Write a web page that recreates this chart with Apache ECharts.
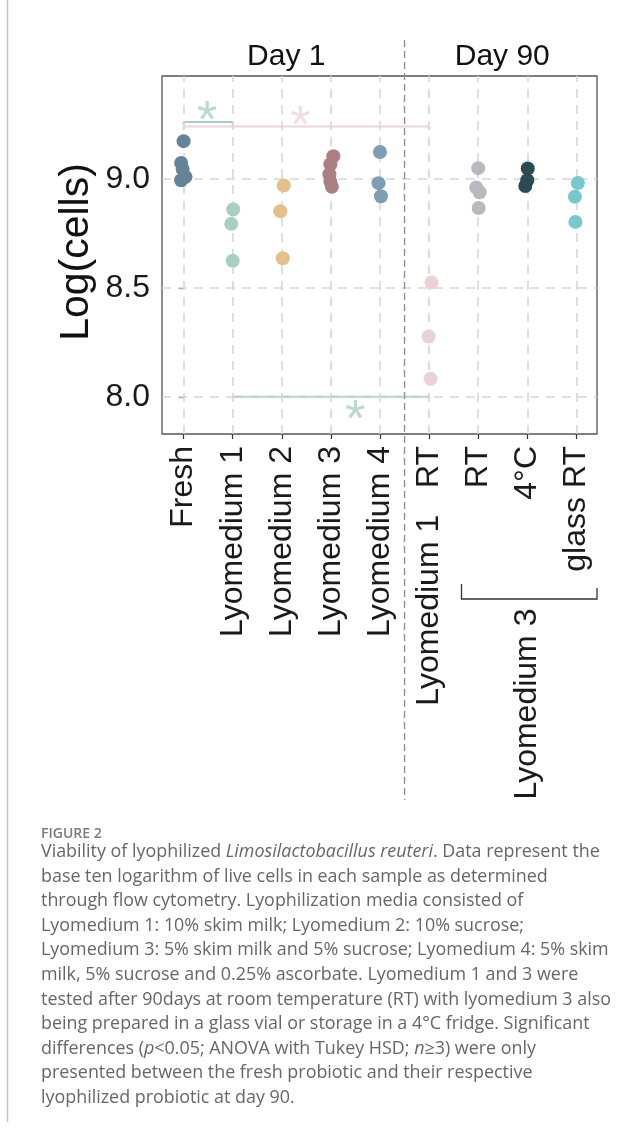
<!DOCTYPE html>
<html>
<head>
<meta charset="utf-8">
<script src="https://cdn.jsdelivr.net/npm/echarts@6/dist/echarts.min.js"></script>
<style>
html,body{margin:0;padding:0;background:#fff;}
#chart{width:642px;height:1128px;}
</style>
</head>
<body>
<div id="chart"></div>
<script>
// ---------- data ----------
const categories = ['Fresh', 'Lyomedium 1', 'Lyomedium 2', 'Lyomedium 3', 'Lyomedium 4',
  'Lyomedium 1   RT', 'RT', '4°C', 'glass RT'];
const yTicks = [8.0, 8.5, 9.0];
const yRange = [7.829, 9.4745];
const xRange = [-0.44, 8.42];

const freshVals = [9.175, 9.075, 9.047, 9.011, 8.995];
const freshJitter = [0.0, -0.05, -0.02, 0.04, -0.05];
const lyo1Vals = [8.861, 8.795, 8.625];
const lyo1Jitter = [0.01, -0.03, 0.0];
const lyo2Vals = [8.971, 8.853, 8.637];
const lyo2Jitter = [0.04, -0.03, 0.02];
const lyo3Vals = [9.106, 9.069, 9.023, 8.988, 8.965];
const lyo3Jitter = [0.05, -0.01, -0.03, -0.01, 0.02];
const lyo4Vals = [9.125, 8.982, 8.922];
const lyo4Jitter = [0.0, -0.03, 0.02];
const lyo1RTVals = [8.525, 8.277, 8.083];
const lyo1RTJitter = [0.05, -0.01, 0.03];
const lyo3RTVals = [9.051, 8.962, 8.940, 8.868];
const lyo3RTJitter = [0.0, -0.04, 0.03, 0.01];
const lyo3ColdVals = [9.049, 8.995, 8.969];
const lyo3ColdJitter = [0.01, 0.0, -0.04];
const lyo3GlassVals = [8.983, 8.920, 8.804];
const lyo3GlassJitter = [0.03, -0.03, -0.02];

const groupVals = [freshVals, lyo1Vals, lyo2Vals, lyo3Vals, lyo4Vals, lyo1RTVals, lyo3RTVals, lyo3ColdVals, lyo3GlassVals];
const groupJitter = [freshJitter, lyo1Jitter, lyo2Jitter, lyo3Jitter, lyo4Jitter, lyo1RTJitter, lyo3RTJitter, lyo3ColdJitter, lyo3GlassJitter];
const groupColors = ['#658399', '#a9cfc3', '#e5c08a', '#ab7f84', '#7d9db3', '#e9d3d5', '#b9b9bf', '#2b4a52', '#77c9cd'];

// significance brackets: [fromIndex, toIndex, yValue]
const bracketTeal = [0, 1, 9.263];
const bracketPink = [0, 5, 9.242];
const bracketBottom = [1, 5, 8.0];
// asterisk positions [x, y]
const starTeal = [0.48, 9.317];
const starPink = [2.38, 9.294];
const starBottom = [3.50, 7.94];
const dividerAt = 4.5;
const lyo3BracketRange = [5.66, 8.42];

const captionLines = [
  'Viability of lyophilized {i|Limosilactobacillus reuteri}. Data represent the',
  'base ten logarithm of live cells in each sample as determined',
  'through flow cytometry. Lyophilization media consisted of',
  'Lyomedium 1: 10% skim milk; Lyomedium 2: 10% sucrose;',
  'Lyomedium 3: 5% skim milk and 5% sucrose; Lyomedium 4: 5% skim',
  'milk, 5% sucrose and 0.25% ascorbate. Lyomedium 1 and 3 were',
  'tested after 90days at room temperature (RT) with lyomedium 3 also',
  'being prepared in a glass vial or storage in a 4°C fridge. Significant',
  'differences ({i|p}<0.05; ANOVA with Tukey HSD; {i|n}≥3) were only',
  'presented between the fresh probiotic and their respective',
  'lyophilized probiotic at day 90.'
];

// ---------- chart ----------
const FONT = "'Liberation Sans', Arial, sans-serif";
const CAP_FONT = "'Open Sans', 'Noto Sans', sans-serif";
const chart = echarts.init(document.getElementById('chart'), null, {renderer: 'canvas'});

const gridDash = {color: '#d6d6d6', width: 1.6, type: [9, 7]};
const series = [];

// grid lines (dashed) as mark lines
series.push({
  type: 'scatter', data: [], z: 1, silent: true,
  markLine: {
    silent: true, symbol: 'none', animation: false,
    label: {show: false},
    lineStyle: gridDash,
    data: categories.map((c, i) => ({xAxis: i})).concat(yTicks.map(v => ({yAxis: v})))
  }
});

groupVals.forEach((vals, g) => {
  series.push({
    type: 'scatter', name: categories[g], z: 5,
    symbolSize: 14,
    itemStyle: {color: groupColors[g], opacity: 1},
    data: vals.map((v, k) => [g + groupJitter[g][k], v])
  });
});

function bracket(b, color, tickDown) {
  const d = tickDown ? [[b[0], b[2] - 0.014], [b[0], b[2]], [b[1], b[2]], [b[1], b[2] - 0.014]] : [[b[0], b[2]], [b[1], b[2]]];
  return {type: 'line', z: 4, data: d, symbol: 'none', silent: true, animation: false,
    lineStyle: {color: color, width: 2}};
}
series.push(bracket(bracketPink, '#ecd6d8', true));
series.push(bracket(bracketTeal, '#a9cfc3', true));
series.push(bracket(bracketBottom, '#a9cfc3', false));

function star(p, color) {
  return {type: 'scatter', z: 6, symbolSize: 2, itemStyle: {color: 'rgba(0,0,0,0)'}, silent: true,
    data: [p],
    label: {show: true, position: 'inside', formatter: '*', color: color,
      fontFamily: FONT, fontSize: 52, offset: [0, 12]}};
}
series.push(star(starTeal, '#a9cfc3'));
series.push(star(starPink, '#ecd6d8'));
series.push(star(starBottom, '#a9cfc3'));

const tickStyle = {color: '#333', width: 1.2};

chart.setOption({
  animation: false,
  backgroundColor: '#fff',
  grid: {left: 162, top: 76, width: 435, height: 358, show: true, borderColor: '#555', borderWidth: 1.3, backgroundColor: 'transparent'},
  xAxis: {
    type: 'value', min: xRange[0], max: xRange[1],
    axisLine: {show: false},
    splitLine: {show: false},
    axisTick: {show: true, inside: false, length: 5, lineStyle: tickStyle, customValues: categories.map((c, i) => i)},
    axisLabel: {show: true, rotate: 90, margin: 12, fontSize: 32, fontFamily: FONT, color: '#1a1a1a',
      customValues: categories.map((c, i) => i),
      formatter: v => categories[Math.round(v)]}
  },
  yAxis: {
    type: 'value', min: yRange[0], max: yRange[1],
    axisLine: {show: false},
    splitLine: {show: false},
    axisTick: {show: true, inside: false, length: 5, lineStyle: tickStyle, customValues: yTicks},
    axisLabel: {show: true, margin: 12, fontSize: 32, fontFamily: FONT, color: '#1a1a1a',
      customValues: yTicks, formatter: v => v.toFixed(1)}
  },
  series: series
});

// ---------- annotations positioned through the axes ----------
const px = (x, y) => chart.convertToPixel({gridIndex: 0}, [x, y]);
const divX = px(dividerAt, 9)[0];
const bL = px(lyo3BracketRange[0], 9)[0];
const bR = px(lyo3BracketRange[1], 9)[0];
const lyo3X = px(7, 9)[0];
const day1X = px(2.09, 9)[0];
const day90X = px(6.49, 9)[0];

const graphics = [
  {type: 'line', z: 10, shape: {x1: 7.5, y1: 0, x2: 7.5, y2: 1122}, style: {stroke: '#c4c4c4', lineWidth: 1.5}},
  {type: 'line', z: 10, shape: {x1: divX, y1: 40, x2: divX, y2: 800}, style: {stroke: '#8c8c8c', lineWidth: 1.3, lineDash: [7, 4]}},
  {type: 'text', z: 10, x: day1X, y: 57, style: {text: 'Day 1', font: "30px " + FONT, fill: '#111', textAlign: 'center', textVerticalAlign: 'middle'}},
  {type: 'text', z: 10, x: day90X, y: 57, style: {text: 'Day 90', font: "30px " + FONT, fill: '#111', textAlign: 'center', textVerticalAlign: 'middle'}},
  {type: 'text', z: 10, x: 77, y: 252, rotation: Math.PI / 2, style: {text: 'Log(cells)', font: "41px " + FONT, fill: '#111', textAlign: 'center', textVerticalAlign: 'middle'}},
  {type: 'polyline', z: 10, shape: {points: [[bL, 584], [bL, 599], [bR, 599], [bR, 588]]}, style: {stroke: '#333', lineWidth: 1.3, fill: null}},
  {type: 'text', z: 10, x: lyo3X, y: 704, rotation: Math.PI / 2, style: {text: 'Lyomedium 3', font: "32px " + FONT, fill: '#1a1a1a', textAlign: 'center', textVerticalAlign: 'middle'}},
  {type: 'text', z: 10, x: 41, y: 834, style: {text: 'FIGURE 2', font: "600 14px " + CAP_FONT, fill: '#7a7a7a', textAlign: 'left', textVerticalAlign: 'middle'}}
];
captionLines.forEach((t, i) => {
  graphics.push({type: 'text', z: 10, x: 41, y: 852 + i * 24.6,
    style: {text: t, fontFamily: CAP_FONT, fontSize: 17.9, fill: '#666', textAlign: 'left', textVerticalAlign: 'middle',
      rich: {i: {fontFamily: CAP_FONT, fontSize: 17.9, fontStyle: 'italic', fill: '#666', color: '#666'}}}});
});
chart.setOption({graphic: graphics});
</script>
</body>
</html>
